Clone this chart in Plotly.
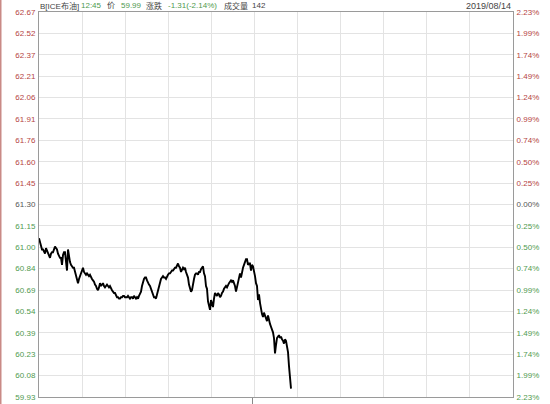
import plotly.graph_objects as go

# ---- data ----
prev_close = 61.30
half_range = 1.37
left_labels = ["62.67", "62.52", "62.37", "62.21", "62.06", "61.91", "61.76", "61.60", "61.45",
               "61.30", "61.15", "61.00", "60.84", "60.69", "60.54", "60.39", "60.23", "60.08", "59.93"]
right_labels = ["2.23%", "1.99%", "1.74%", "1.49%", "1.24%", "0.99%", "0.74%", "0.50%", "0.25%",
                "0.00%", "0.25%", "0.50%", "0.74%", "0.99%", "1.24%", "1.49%", "1.74%", "1.99%", "2.23%"]

prices = [
    61.06, 61.03, 61.00, 60.98, 60.98, 60.96, 60.95, 60.99, 60.97, 60.96,
    60.94, 60.92, 60.95, 60.96, 60.96, 60.98, 61.00, 60.99, 60.98, 60.95,
    60.93, 60.92, 60.92, 60.87, 60.94, 60.96, 60.96, 60.90, 60.83, 60.98,
    60.93, 60.89, 60.87, 60.86, 60.85, 60.85, 60.82, 60.80, 60.78, 60.74,
    60.77, 60.79, 60.82, 60.84, 60.85, 60.82, 60.81, 60.80, 60.81, 60.80,
    60.79, 60.80, 60.78, 60.77, 60.76, 60.75, 60.73, 60.72, 60.70, 60.69,
    60.71, 60.74, 60.72, 60.73, 60.74, 60.72, 60.71, 60.72, 60.73, 60.72,
    60.71, 60.72, 60.70, 60.69, 60.68, 60.67, 60.67, 60.65, 60.64, 60.64,
    60.63, 60.63, 60.64, 60.64, 60.65, 60.65, 60.64, 60.64, 60.64, 60.65,
    60.64, 60.63, 60.64, 60.64, 60.63, 60.65, 60.64, 60.63, 60.64, 60.63,
    60.65, 60.67, 60.68, 60.72, 60.76, 60.77, 60.78, 60.78, 60.76, 60.74,
    60.73, 60.72, 60.70, 60.69, 60.66, 60.64, 60.64, 60.63, 60.66, 60.69,
    60.73, 60.76, 60.77, 60.78, 60.79, 60.78, 60.78, 60.77, 60.79, 60.80,
    60.81, 60.81, 60.82, 60.83, 60.83, 60.84, 60.85, 60.85, 60.87, 60.88,
    60.86, 60.85, 60.82, 60.84, 60.85, 60.84, 60.85, 60.82, 60.80, 60.78,
    60.73, 60.70, 60.68, 60.69, 60.75, 60.77, 60.80, 60.81, 60.81, 60.80,
    60.82, 60.82, 60.84, 60.85, 60.86, 60.81, 60.79, 60.72, 60.70, 60.61,
    60.57, 60.55, 60.62, 60.60, 60.57, 60.63, 60.67, 60.66, 60.65, 60.67,
    60.66, 60.64, 60.65, 60.67, 60.68, 60.70, 60.71, 60.72, 60.71, 60.73,
    60.74, 60.75, 60.76, 60.75, 60.76, 60.74, 60.72, 60.68, 60.71, 60.75,
    60.79, 60.81, 60.78, 60.83, 60.85, 60.87, 60.89, 60.91, 60.91, 60.87,
    60.88, 60.88, 60.83, 60.87, 60.86, 60.83, 60.79, 60.74, 60.72, 60.62,
    60.66, 60.60, 60.54, 60.52, 60.50, 60.53, 60.51, 60.48, 60.47, 60.51,
    60.47, 60.45, 60.43, 60.41, 60.39, 60.35, 60.24, 60.30, 60.35, 60.36,
    60.37, 60.35, 60.36, 60.34, 60.33, 60.31, 60.34, 60.33, 60.29, 60.25,
    60.15, 60.06, 59.99,
]
session_slots = 474          # width of the whole trading session in samples
session_mark = 213           # position of the small tick under the axis
grid_count = 11

title_parts = ["B[ICE布油]", "12:45", "价", "59.99", "涨跌", "-1.31(-2.14%)", "成交量", "142"]
date_label = "2019/08/14"

RED = "#b5443f"
GREEN = "#4f9a4f"
GRAY = "#555555"
DARK = "#444444"
FONT = "Liberation Sans, Arial, Noto Sans CJK SC, sans-serif"

step = half_range / 9
tickvals = [prev_close + step * (9 - k) for k in range(len(left_labels))]


def colour(i):
    if i < 9:
        return RED
    if i == 9:
        return GRAY
    return GREEN


left_text = [f"<span style='color:{colour(i)}'>{t}</span>" for i, t in enumerate(left_labels)]
right_text = [f"<span style='color:{colour(i)}'>{t}</span>" for i, t in enumerate(right_labels)]

fig = go.Figure()
fig.add_trace(go.Scatter(x=list(range(len(prices))), y=prices, mode="lines",
                         line=dict(color="#000000", width=1.9), showlegend=False,
                         hoverinfo="skip"))
fig.add_trace(go.Scatter(x=[0], y=[prev_close], yaxis="y2", mode="markers",
                         marker=dict(opacity=0), showlegend=False, hoverinfo="skip"))

grid_x = [session_slots * k / grid_count for k in range(grid_count + 1)]

fig.update_layout(
    width=550, height=404,
    margin=dict(l=39, r=37, t=12, b=7),
    paper_bgcolor="white", plot_bgcolor="white",
    font=dict(family=FONT, size=8, color=GRAY),
    xaxis=dict(range=[0, session_slots], showgrid=False, zeroline=False, automargin=False,
               tickvals=[session_mark], ticktext=[""], ticks="outside", ticklen=6,
               tickcolor="#888888", tickwidth=1,
               showline=True, linecolor="#9a9a9a", linewidth=1, mirror=True,
               minor=dict(tickvals=grid_x, showgrid=True, gridcolor="#e3e3e3", gridwidth=1, ticks=""),
               fixedrange=True),
    yaxis=dict(range=[prev_close - half_range, prev_close + half_range], automargin=False,
               tickvals=tickvals, ticktext=left_text, showgrid=True, gridcolor="#e3e3e3",
               zeroline=False, showline=True, linecolor="#9a9a9a", linewidth=1,
               ticks="", ticklabelstandoff=1, tickfont=dict(size=8)),
    yaxis2=dict(range=[prev_close - half_range, prev_close + half_range], overlaying="y",
                side="right", tickvals=tickvals, ticktext=right_text, showgrid=False,
                automargin=False,
                zeroline=False, showline=True, linecolor="#9a9a9a", linewidth=1,
                ticks="", ticklabelstandoff=1, tickfont=dict(size=8)),
)

# title pieces: pixel offsets from the plot's left edge
part_offsets = [0, 41, 67, 81, 106, 128, 184, 212]
part_colours = [DARK, GREEN, DARK, GREEN, DARK, GREEN, DARK, DARK]
for txt, off, col in zip(title_parts, part_offsets, part_colours):
    fig.add_annotation(text=txt, xref="paper", yref="paper", x=0, y=1 + 6 / 385,
                       xanchor="left", yanchor="middle", showarrow=False,
                       font=dict(size=8, color=col, family=FONT),
                       xshift=off, borderpad=0)
fig.add_annotation(text=date_label, xref="paper", yref="paper", x=1, y=1 + 6 / 385,
                   xanchor="right", yanchor="middle", showarrow=False,
                   font=dict(size=9, color=DARK, family=FONT), borderpad=0, xshift=-1)
# thin red-brown border at far left
fig.add_shape(type="line", xref="paper", yref="paper", x0=-38.5 / 474, x1=-38.5 / 474,
              y0=-7 / 385, y1=1 + 12 / 385, line=dict(color="#c98a86", width=2))

fig.write_html("out.html", config={"displayModeBar": False},
               post_script="document.body.style.margin='0';document.body.style.overflow='hidden';")
